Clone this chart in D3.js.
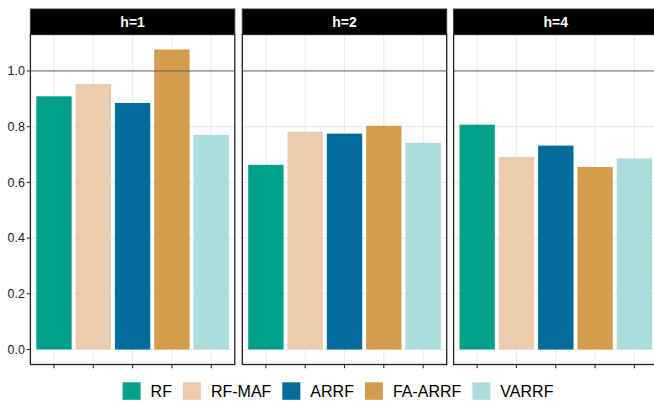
<!DOCTYPE html>
<html><head><meta charset="utf-8">
<script src="https://cdn.jsdelivr.net/npm/d3@7"></script>
<style>body{margin:0;background:#fff;}svg{display:block;font-family:"Liberation Sans",Arial,sans-serif;}</style>
</head><body><svg id="c" width="654" height="405"></svg>
<script>
const horizons = ["h=1", "h=2", "h=4"];
const models = ["RF", "RF-MAF", "ARRF", "FA-ARRF", "VARRF"];
const colors = ["#00A08A", "#ECCBAE", "#046C9A", "#D69C4E", "#ABDDDE"];
const valuesH1 = [0.909, 0.953, 0.885, 1.077, 0.770];
const valuesH2 = [0.663, 0.782, 0.775, 0.803, 0.742];
const valuesH4 = [0.807, 0.691, 0.732, 0.655, 0.686];
const yTicks = [0, 0.2, 0.4, 0.6, 0.8, 1.0];
const refLine = 1.0;

const values = [valuesH1, valuesH2, valuesH4];
const svg = d3.select("#c");
const panelW = 204.4, panelTop = 34.5, panelBot = 364.5, stripTop = 9;
const panelX = [30.4, 242.3, 453.6];
const maxV = d3.max(values.flat());
const y = d3.scaleLinear().domain([-0.05 * maxV, maxV * 1.05]).range([panelBot, panelTop]);
const color = d3.scaleOrdinal().domain(models).range(colors);

horizons.forEach((h, i) => {
  const g = svg.append("g").attr("transform", `translate(${panelX[i]},0)`);
  const step = panelW / 5.2;
  const xc = d => step * 0.6 + models.indexOf(d) * step;
  g.selectAll(".hg").data(yTicks).join("line")
    .attr("x1", 0).attr("x2", panelW).attr("y1", d => y(d)).attr("y2", d => y(d))
    .attr("stroke", "#EBEBEB").attr("stroke-width", 1.1);
  g.selectAll(".vg").data(models).join("line")
    .attr("x1", d => xc(d)).attr("x2", d => xc(d)).attr("y1", panelTop).attr("y2", panelBot)
    .attr("stroke", "#EBEBEB").attr("stroke-width", 1.1);
  const bw = step * 0.9;
  g.selectAll(".bar").data(models.map((m, j) => ({m, v: values[i][j]}))).join("rect")
    .attr("x", d => xc(d.m) - bw / 2).attr("width", bw)
    .attr("y", d => y(d.v)).attr("height", d => y(0) - y(d.v))
    .attr("fill", d => color(d.m));
  g.append("rect").attr("x", 0).attr("y", stripTop).attr("width", panelW).attr("height", panelTop - stripTop)
    .attr("fill", "#000").attr("stroke", "#333").attr("stroke-width", 1);
  g.append("text").attr("x", panelW / 2).attr("y", (stripTop + panelTop) / 2 + 5)
    .attr("text-anchor", "middle").attr("fill", "#fff").attr("font-weight", "bold")
    .attr("font-size", 14).text(h);
  g.selectAll(".xt").data(models).join("line")
    .attr("x1", d => xc(d)).attr("x2", d => xc(d)).attr("y1", panelBot).attr("y2", panelBot + 3.7)
    .attr("stroke", "#333").attr("stroke-width", 1.1);
  g.append("rect").attr("x", 0).attr("y", panelTop).attr("width", panelW).attr("height", panelBot - panelTop)
    .attr("fill", "none").attr("stroke", "#222").attr("stroke-width", 1.3);
});

panelX.forEach(px => {
  svg.append("line").attr("x1", px).attr("x2", px + panelW).attr("y1", y(refLine)).attr("y2", y(refLine))
    .attr("stroke", "#555").attr("stroke-width", 0.9);
});

const ya = svg.append("g");
yTicks.forEach(t => {
  ya.append("line").attr("x1", panelX[0] - 3.7).attr("x2", panelX[0]).attr("y1", y(t)).attr("y2", y(t))
    .attr("stroke", "#333").attr("stroke-width", 1.1);
  ya.append("text").attr("x", panelX[0] - 5.5).attr("y", y(t) + 4.3).attr("text-anchor", "end")
    .attr("font-size", 12.5).attr("fill", "#222").text(d3.format(".1f")(t));
});

const lg = svg.append("g");
const keyW = 18, keyH = 17.5, gapText = 10, gapItem = 11;
let cx = 0;
models.forEach(m => {
  const it = lg.append("g");
  it.append("rect").attr("width", keyW).attr("height", keyH).attr("fill", color(m));
  const t = it.append("text").attr("x", keyW + gapText).attr("y", keyH / 2 + 5.8)
    .attr("font-size", 16).attr("fill", "#000").text(m);
  const w = keyW + gapText + t.node().getComputedTextLength();
  it.attr("transform", `translate(${cx},0)`);
  cx += w + gapItem;
});
const total = cx - gapItem;
lg.attr("transform", `translate(${338 - total / 2},382.3)`);
</script></body></html>
